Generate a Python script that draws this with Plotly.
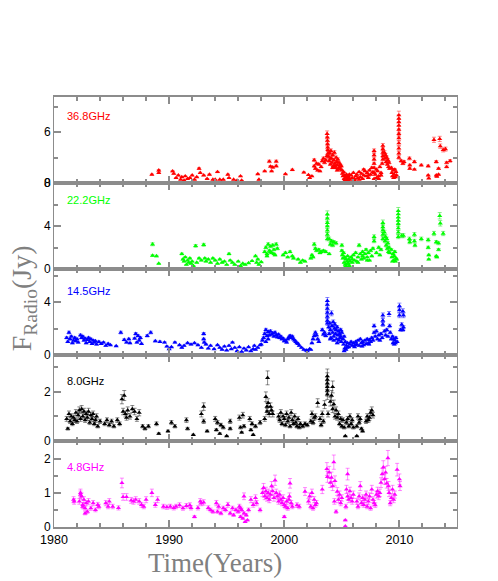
import plotly.graph_objects as go
from plotly.subplots import make_subplots

# ---- 36.8 GHz (Jy) ----
t368 = [1988.5, 1989.1, 1989.1, 1990.3, 1990.4, 1990.6, 1990.8, 1991.0, 1991.1, 1991.3, 1991.4, 1991.6, 1991.8, 1992.0, 1992.2, 1992.4,
        1992.6, 1992.7, 1993.0, 1993.3, 1993.5, 1993.8, 1994.0, 1994.2, 1994.4, 1994.7, 1995.1, 1995.2, 1995.6, 1995.9, 1996.2, 1996.3,
        1997.7, 1997.8, 1998.3, 1998.7, 1998.8, 1998.9, 1999.0, 1999.3, 1999.3, 2000.1, 2000.7, 2001.7, 2002.1, 2002.2,
        2002.4, 2002.6, 2002.6, 2002.7, 2002.8, 2002.9, 2003.0, 2003.1, 2003.2, 2003.3, 2003.4, 2003.5, 2003.6, 2003.7,
        2003.72, 2003.74, 2003.75, 2003.76, 2003.77, 2003.78, 2003.8,
        2003.85, 2003.9, 2003.95, 2004.0, 2004.05, 2004.1, 2004.15, 2004.2, 2004.25, 2004.3, 2004.35, 2004.4, 2004.45, 2004.5,
        2004.55, 2004.6, 2004.65, 2004.7, 2004.75, 2004.8, 2004.85, 2004.9, 2004.95, 2004.0, 2004.2, 2004.4, 2004.6,
        2005.0, 2005.05, 2005.1, 2005.15, 2005.2, 2005.25, 2005.3, 2005.35, 2005.4, 2005.45, 2005.5, 2005.55, 2005.6, 2005.65,
        2005.7, 2005.8, 2005.9, 2006.0, 2006.1, 2006.2, 2006.3, 2006.4, 2006.5, 2006.6, 2006.7, 2006.8, 2006.9, 2007.0,
        2007.1, 2007.2, 2007.3, 2007.4, 2007.5, 2007.6, 2007.7, 2005.2, 2005.4, 2005.6, 2006.1, 2006.5, 2006.9, 2007.3,
        2007.8, 2007.8, 2007.8, 2007.8, 2007.8, 2007.8, 2007.8,
        2007.9, 2008.0, 2008.1, 2008.2, 2008.3, 2008.4, 2008.5, 2008.0, 2008.2, 2008.4,
        2008.56, 2008.56, 2008.56, 2008.56, 2008.56,
        2008.7, 2008.75, 2008.8, 2008.85, 2008.9, 2008.95, 2009.0, 2009.05, 2009.1, 2009.15,
        2009.3, 2009.35, 2009.4, 2009.45, 2009.5, 2009.55, 2009.6, 2009.65, 2009.7, 2009.75,
        2009.95, 2009.95, 2009.95, 2009.95, 2009.95, 2009.95, 2009.95, 2009.95, 2009.95, 2009.95, 2009.95,
        2010.15, 2010.3, 2010.4, 2010.87, 2010.9, 2010.9, 2011.3, 2011.3, 2011.9, 2012.5, 2012.5, 2012.55, 2013.0,
        2013.2, 2013.2, 2013.25, 2013.4, 2013.4, 2013.5, 2013.55, 2013.8, 2014.0, 2014.1, 2014.1, 2014.4]
f368 = [1.0, 1.5, 1.2, 1.4, 1.1, 0.6, 0.9, 0.4, 0.7, 0.3, 0.8, 0.5, 0.6, 0.9, 0.4, 0.7,
        1.7, 1.2, 0.9, 0.5, 1.0, 0.4, 0.4, 1.3, 0.4, 0.4, 1.0, 0.6, 0.4, 0.3, 0.8, 0.3,
        1.05, 0.4, 1.4, 2.55, 1.95, 1.4, 1.85, 2.55, 2.0, 1.05, 1.55, 1.25, 0.95, 0.6,
        0.8, 2.7, 2.0, 1.7, 2.3, 1.5, 2.2, 1.4, 1.9, 2.6, 2.9, 2.4, 2.7, 3.2,
        5.8, 5.4, 5.0, 4.6, 4.2, 3.9, 3.5,
        3.1, 2.6, 3.5, 2.2, 3.8, 2.9, 2.4, 3.3, 2.0, 2.7, 3.6, 2.3, 1.8, 3.0,
        2.5, 2.1, 2.8, 1.7, 2.4, 1.9, 2.2, 1.6, 2.0, 2.9, 1.8, 2.0, 1.5,
        1.5, 1.1, 0.8, 1.3, 0.5, 0.9, 0.3, 0.7, 0.15, 0.5, 0.3, 0.8, 0.6, 1.0,
        0.4, 0.9, 0.6, 1.2, 0.5, 0.8, 1.0, 0.6, 1.3, 0.7, 1.1, 0.5, 0.9, 1.4,
        0.8, 1.2, 0.6, 1.5, 1.0, 1.8, 1.3, 0.2, 1.0, 0.2, 0.3, 0.4, 1.6, 0.9,
        3.8, 3.3, 2.8, 2.3, 1.8, 1.2, 0.5,
        1.0, 0.6, 1.4, 0.8, 1.9, 1.2, 2.3, 1.6, 0.5, 0.9,
        4.4, 4.0, 3.6, 3.2, 2.8,
        3.6, 2.9, 3.3, 2.5, 3.0, 2.2, 2.7, 1.9, 2.4, 1.7,
        1.8, 1.2, 0.8, 1.5, 0.6, 1.0, 1.6, 0.7, 1.3, 0.9,
        8.0, 7.6, 7.2, 6.8, 6.3, 5.8, 5.3, 4.7, 4.1, 3.5, 3.0,
        2.6, 2.3, 2.5, 2.9, 2.1, 1.7, 2.5, 1.6, 2.1, 2.0, 0.9, 0.55, 5.1,
        2.5, 0.9, 0.75, 1.7, 1.0, 5.2, 4.35, 3.9, 4.0, 2.4, 1.9, 2.6]

# ---- 22.2 GHz (Jy) ----
t222 = [1988.56, 1988.56, 1988.9, 1989.1, 1991.1, 1991.2, 1991.3, 1991.4, 1991.5, 1991.6, 1991.7, 1991.8, 1991.9, 1992.0,
        1992.1, 1992.3, 1992.4, 1992.6, 1992.8, 1993.0, 1993.1, 1993.2, 1993.4, 1993.6, 1993.8, 1994.0, 1994.2, 1994.4,
        1994.6, 1994.8, 1995.0, 1995.2, 1995.3, 1995.5, 1995.7, 1996.0, 1996.2, 1996.4, 1996.6,
        1996.9, 1997.2, 1997.5, 1997.6, 1997.7, 1997.8, 1998.0, 1998.3, 1998.4, 1998.5, 1998.6, 1998.7, 1998.8, 1998.9,
        1999.0, 1999.1, 1999.2, 1999.3, 1999.4, 1998.5, 1998.8, 1999.1, 1999.9, 2000.1, 2000.3, 2000.5, 2000.7, 2000.8,
        2001.2, 2001.4, 2001.6, 2001.8, 2002.3, 2002.4, 2002.5, 2002.6, 2002.7, 2002.8, 2003.0, 2003.1, 2003.2, 2003.4, 2003.6,
        2003.74, 2003.74, 2003.74, 2003.74, 2003.74, 2003.74, 2003.74,
        2003.9, 2004.0, 2004.1, 2004.2, 2004.3, 2004.5, 2003.9,
        2005.0, 2005.0, 2005.05, 2005.1, 2005.15, 2005.2, 2005.25, 2005.3, 2005.35, 2005.4, 2005.45, 2005.5, 2005.55, 2005.6,
        2005.65, 2005.7, 2005.8, 2005.9, 2006.0, 2006.1, 2006.2, 2006.3, 2006.4, 2006.5, 2006.6, 2006.7, 2006.8, 2006.9,
        2007.0, 2007.1, 2007.2, 2007.3, 2007.4, 2007.5, 2007.6, 2007.7, 2005.3, 2005.5, 2005.9, 2006.4, 2006.8, 2007.2,
        2007.8, 2007.8, 2008.0, 2008.2, 2008.3, 2008.4,
        2008.56, 2008.56, 2008.56, 2008.56, 2008.56,
        2008.7, 2008.75, 2008.8, 2008.85, 2008.9, 2008.95, 2009.0, 2009.05, 2009.1, 2009.15,
        2009.3, 2009.35, 2009.4, 2009.45, 2009.5, 2009.55, 2009.6, 2009.65, 2009.7, 2009.75,
        2009.9, 2009.9, 2009.9, 2009.9, 2009.9, 2009.9, 2009.9, 2009.9,
        2010.2, 2010.35, 2010.87, 2010.9, 2011.3, 2011.3, 2011.35, 2011.9, 2012.5, 2012.5, 2012.55, 2012.55,
        2013.0, 2013.2, 2013.2, 2013.25, 2013.4, 2013.4, 2013.5, 2013.55, 2013.8]
f222 = [2.3, 1.25, 1.2, 0.5, 1.4, 0.9, 0.7, 1.1, 0.4, 0.8, 0.6, 1.0, 0.5, 0.7,
        0.3, 2.15, 0.6, 1.0, 0.8, 2.25, 1.0, 0.7, 0.9, 0.6, 1.0, 0.8, 0.5, 0.9,
        0.6, 0.7, 0.4, 1.4, 0.8, 0.6, 0.4, 0.7, 0.3, 0.5, 0.4,
        0.55, 0.75, 1.2, 0.6, 0.9, 0.4, 0.65, 1.6, 2.0, 1.4, 2.3, 1.7, 2.1, 1.5,
        2.2, 1.8, 1.3, 2.3, 1.9, 1.2, 1.6, 1.4, 1.3, 1.5, 1.1, 1.6, 1.2, 1.0,
        0.9, 0.6, 0.8, 0.7, 1.0, 1.3, 1.1, 2.3, 1.9, 1.7, 1.8, 1.5, 1.6, 1.7, 1.6,
        5.1, 4.7, 4.3, 4.0, 3.6, 3.2, 2.8,
        2.8, 2.3, 2.6, 2.2, 2.5, 2.4, 1.4,
        2.2, 1.7, 1.3, 1.0, 1.5, 0.6, 1.1, 0.4, 0.9, 0.2, 0.7, 1.2, 0.5, 0.9,
        0.3, 0.7, 1.1, 0.6, 1.3, 0.8, 1.5, 0.7, 1.1, 2.2, 1.4, 0.9, 1.6, 1.0,
        1.4, 1.8, 1.1, 1.5, 0.8, 1.7, 1.2, 1.9, 0.2, 0.5, 0.9, 0.6, 1.2, 0.8,
        3.0, 2.6, 1.5, 2.0, 1.3, 1.8,
        4.3, 3.9, 3.6, 3.2, 2.8,
        3.4, 2.6, 3.0, 2.2, 2.8, 1.9, 2.4, 1.6, 2.0, 1.5,
        1.8, 1.1, 0.7, 1.4, 0.8, 1.2, 1.6, 0.7, 1.0, 0.9,
        5.4, 5.1, 4.8, 4.5, 4.2, 3.8, 3.4, 3.0,
        3.1, 3.1, 2.8, 2.5, 3.2, 2.6, 2.2, 2.8, 2.7, 2.0, 1.3, 0.9,
        3.3, 2.5, 1.2, 1.1, 1.8, 2.4, 4.95, 4.25, 3.3]

# ---- 14.5 GHz (Jy) ----
t145 = [1981.1, 1981.2, 1981.3, 1981.4, 1981.5, 1981.6, 1981.7, 1981.8, 1981.9, 1982.0, 1982.1, 1982.3, 1982.4, 1982.5,
        1982.6, 1982.7, 1982.8, 1982.9, 1983.0, 1983.1, 1983.2, 1983.3, 1983.4, 1983.5, 1983.6, 1983.7, 1983.9, 1984.1,
        1984.3, 1984.5, 1984.7, 1984.9, 1985.4, 1985.8, 1986.1, 1986.3, 1986.5, 1986.6, 1987.0, 1987.1, 1987.2, 1987.3,
        1987.4, 1987.5, 1987.6, 1988.1, 1988.4, 1988.8, 1989.2, 1989.6, 1989.8, 1990.0, 1990.2, 1990.5, 1990.9, 1991.1,
        1991.3, 1991.6, 1991.9, 1992.2, 1992.5, 1992.8, 1993.0, 1993.0, 1993.05, 1993.2, 1993.4, 1993.6, 1993.9, 1994.2,
        1994.4, 1994.6, 1994.8, 1995.0, 1995.2, 1995.4, 1995.5, 1995.7, 1995.9, 1996.1, 1996.3, 1996.5, 1996.7, 1996.9,
        1997.1, 1997.3, 1997.4, 1997.5, 1997.7, 1997.9,
        1998.0, 1998.1, 1998.2, 1998.3, 1998.4, 1998.5, 1998.6, 1998.7, 1998.8, 1998.9, 1999.0, 1999.1, 1999.2, 1999.3,
        1999.4, 1999.5, 1999.6, 1999.7, 1999.8, 1999.9, 2000.0, 2000.1, 2000.2, 2000.3, 2000.4, 2000.5, 2000.6, 2000.7,
        2000.8, 2000.9, 2001.0, 2001.1, 2001.2, 2001.3, 2001.5, 2001.7, 2001.9, 2002.0, 2002.2, 2002.3, 2002.4, 2002.5,
        2002.6, 2002.7, 2002.8, 2002.9, 2003.0, 2003.3, 2003.4, 2003.5, 2003.6, 1998.4, 1998.6,
        2003.74, 2003.74, 2003.74, 2003.74, 2003.74, 2003.74, 2003.74,
        2003.85, 2003.9, 2003.95, 2004.0, 2004.05, 2004.1, 2004.15, 2004.2, 2004.25, 2004.3, 2004.35, 2004.4, 2004.45, 2004.5,
        2004.55, 2004.6, 2004.65, 2004.7, 2004.75, 2004.8, 2004.85, 2004.9, 2004.95, 2004.0, 2004.3, 2004.6, 2004.9,
        2005.0, 2005.1, 2005.15, 2005.2, 2005.25, 2005.3, 2005.35, 2005.4, 2005.5, 2005.6, 2005.7, 2005.8, 2005.9, 2006.0,
        2006.1, 2006.2, 2006.3, 2006.4, 2006.5, 2006.6, 2006.7, 2006.8, 2006.9, 2007.0, 2007.1, 2007.2, 2007.3, 2007.4,
        2007.5, 2007.6, 2007.7, 2005.2, 2005.45, 2006.15, 2006.75, 2007.35,
        2007.8, 2007.8, 2007.9, 2008.0, 2008.1, 2008.2, 2008.3, 2008.4, 2008.5,
        2008.56, 2008.56, 2008.56, 2008.7, 2008.8, 2008.9, 2009.0,
        2009.1, 2009.15, 2009.2, 2009.3,
        2009.4, 2009.45, 2009.5, 2009.55, 2009.6, 2009.65, 2009.7, 2009.8,
        2010.0, 2010.0, 2010.0, 2010.1, 2010.2, 2010.3, 2010.35, 2010.3, 2010.35]
f145 = [1.3, 1.0, 1.7, 1.2, 1.4, 0.9, 1.1, 1.3, 1.05, 1.2, 0.95, 1.5, 1.3, 1.4,
        1.1, 1.25, 0.9, 1.15, 1.3, 1.0, 1.2, 0.85, 1.1, 0.95, 1.05, 0.8, 1.0, 0.85,
        0.95, 0.7, 0.85, 0.75, 0.68, 1.7, 1.15, 0.95, 1.2, 0.9, 1.25, 1.6, 0.95, 1.45,
        1.1, 1.3, 0.85, 1.45, 1.7, 1.05, 1.0, 0.95, 0.65, 0.45, 0.6, 0.95, 0.75, 0.55,
        0.7, 0.9, 0.8, 0.9, 0.75, 0.55, 1.6, 1.2, 0.95, 0.8, 0.5, 0.7, 0.45, 0.75,
        0.55, 0.4, 0.65, 0.35, 0.7, 0.45, 0.95, 0.55, 0.3, 0.6, 0.25, 0.5, 0.35, 0.6,
        0.3, 0.45, 0.7, 0.4, 0.55, 0.75,
        0.8, 1.1, 1.3, 1.6, 1.9, 1.45, 1.75, 1.5, 1.8, 1.55, 1.65, 1.4, 1.7, 1.5,
        1.35, 1.55, 1.3, 1.4, 1.2, 1.25, 1.05, 1.1, 0.95, 1.2, 1.35, 1.45, 1.3, 1.4,
        1.2, 1.1, 1.0, 0.9, 0.85, 0.7, 0.55, 0.4, 0.35, 0.3, 0.45, 0.4, 0.9, 1.2,
        1.45, 1.7, 1.5, 1.2, 1.0, 1.9, 1.55, 1.7, 1.45, 1.0, 1.2,
        4.1, 3.8, 3.5, 3.2, 2.9, 2.6, 2.4,
        2.1, 1.6, 2.4, 1.9, 1.3, 3.15, 2.2, 1.7, 2.5, 1.4, 2.0, 2.3, 1.6, 1.9,
        1.2, 2.1, 1.5, 1.8, 1.1, 1.6, 1.3, 1.9, 1.0, 1.2, 1.1, 0.9, 1.4,
        1.7, 1.2, 0.8, 1.4, 0.5, 1.0, 0.4, 0.7, 0.9, 0.6, 0.8, 1.0, 0.7, 0.9,
        0.6, 1.0, 0.8, 1.1, 0.7, 1.2, 0.9, 1.0, 0.75, 1.1, 0.85, 1.2, 0.9, 1.15,
        1.0, 1.3, 1.1, 0.3, 0.55, 0.75, 0.65, 0.8,
        2.2, 1.7, 1.4, 1.8, 1.2, 1.5, 1.1, 1.6, 1.3,
        3.0, 2.6, 2.3, 1.8, 1.5, 1.9, 1.4,
        3.1, 2.2, 1.7, 1.2,
        1.4, 0.9, 1.2, 0.8, 1.1, 0.9, 1.3, 1.0,
        3.7, 3.4, 3.0, 1.9, 2.3, 3.3, 3.0, 1.9, 2.1]

# ---- 8.0 GHz (Jy) ----
t80 = [1981.1, 1981.2, 1981.3, 1981.4, 1981.5, 1981.6, 1981.7, 1981.8, 1981.9, 1982.0, 1982.1, 1982.2, 1982.3, 1982.4,
       1982.5, 1982.6, 1982.7, 1982.8, 1982.9, 1983.0, 1983.1, 1983.2, 1983.3, 1983.4, 1983.5, 1983.6, 1983.7, 1983.8,
       1984.0, 1984.4, 1984.6, 1984.8, 1985.0, 1985.2, 1985.5, 1985.7, 1985.9, 1986.0, 1986.1, 1986.2, 1986.3, 1986.4,
       1986.6, 1986.8, 1987.0, 1987.2, 1987.4, 1987.7, 1987.9, 1988.2, 1988.9, 1989.1, 1989.9, 1990.2, 1990.5, 1991.5,
       1991.6, 1992.1, 1992.8, 1993.0, 1993.0, 1993.3, 1994.0, 1994.1, 1994.2, 1994.4, 1994.5, 1994.7, 1995.0, 1995.3,
       1995.3, 1996.1, 1996.2, 1996.3, 1996.4, 1996.5, 1997.0, 1997.1, 1997.2, 1997.3, 1997.5, 1997.9,
       1998.3, 1998.4, 1998.5, 1998.5, 1998.6, 1998.7, 1998.8, 1998.9, 1999.0, 1998.55, 1999.5, 1999.6, 1999.7, 1999.8,
       1999.9, 2000.0, 2000.1, 2000.2, 2000.3, 2000.4, 2000.5, 2000.6, 2000.7, 2000.8, 2000.9, 2001.0, 2001.1, 2001.2,
       2001.3, 2001.4, 2001.6, 2001.8, 2002.0, 2002.3, 2002.4, 2002.5, 2002.6, 2002.7, 2002.9, 2003.1, 2003.2, 2003.3,
       2003.4, 2003.5,
       2003.74, 2003.74, 2003.74, 2003.74, 2003.74, 2003.74, 2003.8,
       2004.0, 2004.1, 2004.2, 2004.2, 2004.3, 2004.4, 2004.5, 2004.6, 2004.7, 2004.8, 2004.9, 2005.0, 2005.1, 2005.2,
       2005.3, 2005.4, 2005.5, 2005.6, 2005.7, 2005.8, 2005.9, 2006.0, 2006.3, 2006.3, 2006.4, 2006.5, 2006.6, 2006.7,
       2006.8, 2007.1, 2007.2, 2007.3, 2007.4, 2007.5, 2007.6, 2007.7]
f80 = [0.9, 0.5, 1.1, 0.8, 1.0, 0.7, 0.95, 0.85, 1.15, 0.8, 1.05, 1.25, 0.9, 1.3,
       1.0, 1.2, 0.85, 1.1, 0.95, 1.2, 0.75, 1.05, 0.9, 1.1, 0.7, 0.85, 1.0, 0.6,
       0.8, 0.7, 0.85, 0.65, 0.8, 0.6, 0.85, 0.7, 1.7, 1.2, 1.85, 1.1, 0.95, 1.25,
       1.0, 1.3, 1.2, 0.9, 1.15, 0.6, 0.5, 0.6, 0.7, 0.3, 0.4, 0.75, 0.6, 0.85,
       0.5, 0.25, 1.1, 1.4, 0.8, 0.4, 0.9, 0.45, 0.75, 0.3, 0.65, 0.55, 0.2, 0.8,
       0.5, 0.95, 0.55, 0.35, 1.05, 0.6, 0.9, 0.45, 0.7, 0.25, 0.6, 0.75,
       0.9, 1.8, 1.4, 1.2, 1.55, 1.1, 1.4, 1.25, 1.1, 2.57, 1.0, 0.85, 1.15, 0.7,
       1.0, 0.9, 0.65, 1.1, 0.8, 0.95, 0.6, 1.15, 0.85, 0.7, 1.0, 0.75, 0.6, 0.9,
       0.55, 0.7, 0.6, 0.7, 0.65, 0.8, 1.1, 0.75, 0.95, 1.0, 1.55, 0.9, 0.65, 1.1,
       0.8, 1.48,
       2.64, 2.5, 2.35, 2.2, 2.05, 1.9, 1.1,
       1.6, 1.85, 1.3, 2.2, 1.5, 1.0, 1.25, 0.95, 1.1, 0.7, 0.9, 0.6, 0.85, 0.55,
       0.2, 0.75, 0.9, 0.6, 1.0, 0.7, 0.85, 0.55, 0.2, 0.6, 1.0, 0.75, 0.9, 0.5,
       0.4, 0.8, 1.0, 0.85, 0.95, 1.15, 1.25, 1.05]

# ---- 4.8 GHz (Jy) ----
t48 = [1981.7, 1981.75, 1982.2, 1982.3, 1982.4, 1982.5, 1982.6, 1982.7, 1982.8, 1982.9, 1982.3, 1982.5, 1982.7, 1983.0,
       1983.2, 1983.4, 1983.6, 1983.8, 1983.9, 1984.5, 1984.7, 1984.8, 1985.1, 1985.6, 1985.9, 1986.0, 1986.3, 1986.7,
       1986.9, 1987.1, 1987.4, 1987.6, 1987.8, 1988.0, 1988.5, 1988.8, 1989.0, 1989.5, 1989.8, 1990.1, 1990.4, 1990.6,
       1990.9, 1991.2, 1991.5, 1991.8, 1991.9, 1992.2, 1992.5, 1992.7, 1992.8, 1993.0, 1993.4, 1993.6, 1993.8, 1994.1,
       1994.2, 1994.3, 1994.5, 1994.7, 1994.9, 1995.1, 1995.3, 1995.5, 1995.6, 1995.8, 1996.0, 1996.1, 1996.2, 1996.3,
       1996.4, 1996.5, 1996.6, 1996.7, 1996.8, 1996.2, 1996.5, 1996.9, 1997.1, 1997.3, 1997.5, 1997.6, 1997.9,
       1998.1, 1998.2, 1998.3, 1998.4, 1998.5, 1998.6, 1998.7, 1998.8, 1998.9, 1999.0, 1999.1, 1999.2, 1999.3, 1999.4,
       1999.5, 1999.6, 1999.7, 1999.8, 1999.9, 2000.0, 2000.1, 2000.2, 2000.3, 2000.4, 2000.5, 2000.6, 2000.7, 2000.0,
       2000.45, 2001.1, 2001.3, 2001.8, 2002.1, 2002.2, 2002.3, 2002.4, 2002.5, 2002.6, 2002.7, 2002.8, 2003.3, 2003.7,
       2003.75, 2003.9, 2004.0, 2004.1, 2004.2, 2004.3, 2004.35, 2004.4, 2004.5, 2004.6, 2004.7, 2004.8, 2004.9, 2005.0,
       2005.3, 2005.3, 2005.35, 2005.5, 2005.4, 2005.5, 2005.6, 2005.7, 2005.8, 2005.9, 2006.0, 2006.3, 2006.4, 2006.5,
       2006.6, 2006.7, 2006.8, 2006.9, 2007.0, 2007.1, 2007.2, 2007.3, 2007.4, 2007.5, 2007.6, 2007.7, 2007.8, 2007.9,
       2008.0, 2008.1, 2008.2, 2008.3, 2008.4, 2008.5, 2008.6, 2008.7, 2008.8, 2008.9, 2009.0, 2009.05, 2009.1, 2009.2,
       2009.3, 2009.4, 2009.5, 2009.6, 2009.8, 2010.0, 2010.05]
f48 = [0.8, 0.75, 0.75, 1.0, 0.9, 0.65, 0.8, 0.55, 0.7, 0.45, 0.95, 0.6, 0.4, 0.75,
       0.55, 0.7, 0.5, 0.65, 0.6, 0.7, 0.6, 0.75, 0.6, 0.56, 1.29, 0.88, 0.88, 0.78,
       0.75, 0.8, 0.75, 0.65, 0.6, 0.8, 1.0, 0.65, 0.8, 0.6, 0.58, 0.6, 0.56, 0.6,
       0.64, 0.55, 0.62, 0.64, 0.56, 0.3, 0.56, 0.75, 0.7, 0.72, 0.56, 0.5, 0.45, 0.7,
       0.45, 0.6, 0.4, 0.55, 0.5, 0.65, 0.4, 0.55, 0.35, 0.5, 0.45, 0.6, 0.3, 0.5,
       0.25, 0.4, 0.15, 0.35, 0.2, 0.55, 0.9, 0.5, 0.8, 0.65, 0.85, 0.7, 0.5,
       1.0, 1.15, 0.9, 1.05, 0.85, 1.0, 0.8, 0.95, 1.2, 1.05, 0.85, 1.37, 1.0, 0.9,
       0.75, 0.95, 0.8, 0.7, 0.85, 0.65, 0.6, 0.75, 0.55, 0.8, 1.28, 0.7, 0.6, 0.3,
       0.9, 0.64, 0.6, 1.04, 0.75, 0.9, 0.6, 1.0, 0.55, 0.8, 0.65, 0.7, 1.1, 1.7,
       1.47, 1.6, 1.3, 1.45, 1.2, 1.9, 0.75, 1.35, 0.45, 1.04, 0.8, 0.95, 0.7, 0.85,
       0.2, 0.02, 0.6, 1.55, 1.1, 0.9, 0.8, 1.05, 0.85, 0.75, 0.95, 0.75, 0.6, 0.9,
       1.2, 0.7, 0.85, 0.65, 0.8, 0.95, 0.6, 0.75, 0.9, 0.55, 1.1, 0.8, 0.7, 0.64,
       0.95, 1.05, 0.9, 1.0, 1.3, 1.55, 1.75, 1.4, 1.6, 1.28, 2.02, 1.2, 1.0, 0.7,
       0.85, 1.1, 0.8, 0.95, 1.68, 1.4, 1.2]

bands = ["36.8GHz", "22.2GHz", "14.5GHz", "8.0GHz", "4.8GHz"]
times = [t368, t222, t145, t80, t48]
fluxes = [f368, f222, f145, f80, f48]
colors = ["#ff0000", "#00ff00", "#0000ff", "#000000", "#ff00ff"]
err_colors = ["rgba(255,0,0,0.45)", "rgba(0,220,0,0.45)", "rgba(0,0,255,0.45)",
              "rgba(0,0,0,0.45)", "rgba(255,0,255,0.45)"]
err_pct = [6, 6, 6, 11, 11]
y_ranges = [[0, 10.15], [0, 8], [0, 6.5], [0, 3.5], [0, 2.52]]
y_dticks = [6, 4, 4, 2, 1]
label_y = [0.78, 0.8, 0.74, 0.7, 0.7]

for t, f in zip(times, fluxes):
    assert len(t) == len(f), (len(t), len(f))

fig = make_subplots(rows=5, cols=1, shared_xaxes=True, vertical_spacing=0)

axcol = "#8c8c8c"
for i in range(5):
    fig.add_trace(go.Scatter(
        x=times[i], y=fluxes[i], mode="markers",
        marker=dict(symbol="triangle-up", size=4.5, color=colors[i], line=dict(width=0)),
        error_y=dict(type="percent", value=err_pct[i], color=err_colors[i], thickness=1, width=2),
        showlegend=False), row=i + 1, col=1)
    fig.update_yaxes(range=y_ranges[i], dtick=y_dticks[i], tick0=0,
                     minor=dict(dtick=y_dticks[i] / 2, ticks="inside", ticklen=4, tickcolor=axcol),
                     row=i + 1, col=1)
    fig.add_annotation(text=bands[i], xref="x domain" if i == 0 else "x%d domain" % (i + 1),
                       yref="y domain" if i == 0 else "y%d domain" % (i + 1),
                       x=0.028, y=label_y[i], xanchor="left", yanchor="middle", showarrow=False,
                       font=dict(family="Liberation Sans, Arial", size=11, color=colors[i]))

fig.update_xaxes(range=[1980, 2015], dtick=10, tick0=1980, showline=True, linecolor=axcol, linewidth=1.5,
                 mirror="ticks", ticks="inside", ticklen=7, tickwidth=1.5, tickcolor=axcol,
                 minor=dict(dtick=2, ticks="inside", ticklen=4, tickcolor=axcol),
                 showgrid=False, zeroline=False,
                 tickfont=dict(family="Liberation Sans, Arial", size=12.5, color="black"))
fig.update_yaxes(showline=True, linecolor=axcol, linewidth=1, mirror="ticks", ticks="inside",
                 ticklen=7, tickwidth=1.5, tickcolor=axcol, showgrid=False, zeroline=False,
                 tickfont=dict(family="Liberation Sans, Arial", size=12, color="black"))

fig.add_annotation(text="Time(Years)", xref="paper", yref="paper", x=(215 - 54.3) / 402.4, y=-0.0835,
                   xanchor="center", yanchor="middle", showarrow=False,
                   font=dict(family="Liberation Serif, Times New Roman", size=27, color="#808080"))
fig.add_annotation(text="F<sub>Radio</sub>(Jy)", xref="paper", yref="paper", x=(24 - 54.3) / 402.4,
                   y=(527.3 - 299) / 430, textangle=-90, xanchor="center", yanchor="middle", showarrow=False,
                   font=dict(family="Liberation Serif, Times New Roman", size=28, color="#808080"))

# the page adds an 8px body margin, so the figure is 8px smaller and shifted
fig.update_layout(width=490, height=573, margin=dict(l=46, r=41, t=89, b=54),
                  plot_bgcolor="white", paper_bgcolor="white")

fig.write_html("out.html")
